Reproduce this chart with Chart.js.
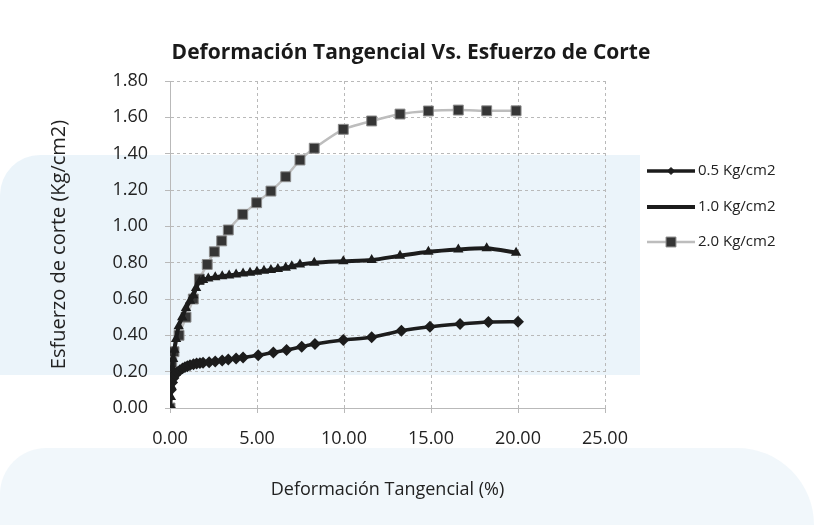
<!DOCTYPE html>
<html>
<head>
<meta charset="utf-8">
<script src="https://cdn.jsdelivr.net/npm/chart.js@4.4.1/dist/chart.umd.min.js"></script>
<style>
  html, body { margin: 0; padding: 0; background: #fff; }
  #wrap { position: relative; width: 814px; height: 525px; overflow: hidden; }
  .tinte { position: absolute; background: #e3f0f8; }
  canvas { position: absolute; left: 0; top: 0; }
</style>
</head>
<body>
<div id="wrap">
  <div class="tinte" style="left:0; top:155px; width:640px; height:220px; border-top-left-radius:40px; opacity:0.7"></div>
  <div class="tinte" style="left:0; top:448px; width:814px; height:77px; border-top-left-radius:120px; border-top-right-radius:200px; opacity:0.5"></div>
  <canvas id="grafico" width="814" height="525"></canvas>
</div>
<script>
// --- DATOS ---
const titulo = 'Deformación Tangencial Vs. Esfuerzo de Corte';
const tituloX = 'Deformación Tangencial (%)';
const tituloY = 'Esfuerzo de corte (Kg/cm2)';
const series = ['0.5 Kg/cm2', '1.0 Kg/cm2', '2.0 Kg/cm2'];

const def05 = [0, 0.05, 0.12, 0.2, 0.3, 0.42, 0.57, 0.72, 0.86, 1.0, 1.15, 1.35, 1.53, 1.72, 1.9, 2.25, 2.6, 3.0, 3.35, 3.8, 4.2, 5.07, 5.94, 6.7, 7.57, 8.33, 9.96, 11.59, 13.3, 14.94, 16.67, 18.3, 20.0];
const esf05 = [0, 0.1, 0.14, 0.165, 0.183, 0.197, 0.208, 0.218, 0.225, 0.23, 0.236, 0.241, 0.245, 0.247, 0.249, 0.252, 0.256, 0.262, 0.267, 0.272, 0.278, 0.29, 0.306, 0.319, 0.337, 0.352, 0.374, 0.389, 0.425, 0.447, 0.462, 0.473, 0.475];

const def10 = [0, 0.05, 0.08, 0.1, 0.13, 0.18, 0.25, 0.35, 0.5, 0.7, 0.92, 1.15, 1.34, 1.5, 1.69, 1.9, 2.2, 2.6, 3.0, 3.4, 3.8, 4.2, 4.6, 5.0, 5.4, 5.8, 6.2, 6.65, 7.0, 7.47, 8.29, 9.96, 11.59, 13.22, 14.85, 16.57, 18.2, 19.89];
const esf10 = [0, 0.06, 0.12, 0.17, 0.22, 0.27, 0.32, 0.38, 0.45, 0.5, 0.55, 0.59, 0.62, 0.66, 0.695, 0.705, 0.713, 0.72, 0.725, 0.73, 0.735, 0.74, 0.745, 0.75, 0.755, 0.76, 0.765, 0.772, 0.78, 0.79, 0.8, 0.808, 0.815, 0.838, 0.86, 0.873, 0.879, 0.855];

const def20 = [0, 0.1, 0.23, 0.52, 0.92, 1.34, 1.69, 2.14, 2.55, 2.97, 3.35, 4.18, 4.98, 5.80, 6.65, 7.47, 8.29, 9.96, 11.59, 13.22, 14.85, 16.57, 18.2, 19.89];
const esf20 = [0, 0.25, 0.31, 0.40, 0.50, 0.60, 0.71, 0.79, 0.86, 0.92, 0.98, 1.066, 1.13, 1.194, 1.273, 1.365, 1.43, 1.534, 1.58, 1.618, 1.635, 1.64, 1.636, 1.636];

const fuente = "'Open Sans', 'Noto Sans', sans-serif";
const gris = '#b9b9b9';

function puntos(xs, ys) {
    return xs.map((x, i) => ({ x: x, y: ys[i] }));
}

// --- TITULO (centrado sobre todo el grafico, no sobre el area) ---
const tituloArriba = {
    id: 'tituloArriba',
    afterDraw(chart) {
        const ctx = chart.ctx;
        ctx.save();
        ctx.fillStyle = '#1a1a1a';
        ctx.font = 'bold 21px ' + fuente;
        ctx.textAlign = 'center';
        ctx.textBaseline = 'alphabetic';
        ctx.fillText(titulo, 411, 59);
        ctx.restore();
    }
};

// --- LEYENDA A LA DERECHA ---
const leyendaLateral = {
    id: 'leyendaLateral',
    afterDraw(chart) {
        const ctx = chart.ctx;
        const x0 = 647, x1 = 695;
        const filas = [171, 207, 242];
        ctx.save();
        chart.data.datasets.forEach((ds, i) => {
            const y = filas[i];
            ctx.strokeStyle = ds.borderColor;
            ctx.lineWidth = ds.borderWidth;
            ctx.beginPath();
            ctx.moveTo(x0, y);
            ctx.lineTo(x1, y);
            ctx.stroke();
            const cx = (x0 + x1) / 2;
            ctx.fillStyle = ds.pointBackgroundColor;
            ctx.strokeStyle = ds.pointBorderColor;
            ctx.lineWidth = 1;
            const r = ds.pointRadius;
            ctx.beginPath();
            if (ds.pointStyle === 'rect') {
                const s = r * Math.SQRT1_2;
                ctx.rect(cx - s, y - s, 2 * s, 2 * s);
            } else if (ds.pointStyle === 'rectRot') {
                ctx.moveTo(cx, y - r); ctx.lineTo(cx + r, y); ctx.lineTo(cx, y + r); ctx.lineTo(cx - r, y); ctx.closePath();
            } else {
                ctx.moveTo(cx, y - r); ctx.lineTo(cx + r, y + r * 0.7); ctx.lineTo(cx - r, y + r * 0.7); ctx.closePath();
            }
            ctx.fill();
            ctx.stroke();
            ctx.fillStyle = '#222';
            ctx.font = '15px ' + fuente;
            ctx.textBaseline = 'middle';
            ctx.fillText(ds.label, x1 + 3, y);
        });
        ctx.restore();
    }
};

const ctx = document.getElementById('grafico').getContext('2d');
new Chart(ctx, {
    type: 'scatter',
    data: {
        datasets: [
            {
                label: series[0], data: puntos(def05, esf05), showLine: true,
                borderColor: '#1c1c1c', borderWidth: 3.5, tension: 0.25,
                pointStyle: 'rectRot', pointRadius: 3.5,
                pointBackgroundColor: '#1c1c1c', pointBorderColor: '#1c1c1c'
            },
            {
                label: series[1], data: puntos(def10, esf10), showLine: true,
                borderColor: '#1c1c1c', borderWidth: 4, tension: 0.25,
                pointStyle: 'triangle', pointRadius: 2,
                pointBackgroundColor: '#1c1c1c', pointBorderColor: '#1c1c1c'
            },
            {
                label: series[2], data: puntos(def20, esf20), showLine: true,
                borderColor: '#bdbdbd', borderWidth: 2.5, tension: 0.2,
                pointStyle: 'rect', pointRadius: 7,
                pointBackgroundColor: '#353535', pointBorderColor: '#8a8a8a', pointBorderWidth: 1
            }
        ]
    },
    options: {
        responsive: false,
        animation: false,
        layout: { padding: { top: 81, right: 209, left: 0, bottom: 0 } },
        plugins: {
            legend: { display: false },
            tooltip: { enabled: false },
            title: { display: false }
        },
        scales: {
            x: {
                type: 'linear', min: 0, max: 25,
                ticks: { stepSize: 5, color: '#222', padding: 15, font: { family: fuente, size: 18 },
                         callback: v => v.toFixed(2) },
                grid: { color: gris, tickLength: 5, tickColor: gris },
                border: { color: gris, dash: [3, 3] },
                title: { display: true, text: tituloX, color: '#222', font: { family: fuente, size: 18 },
                         padding: { top: 0, bottom: 24 } },
                afterFit(scale) { scale.height = 117; }
            },
            y: {
                min: 0, max: 1.8,
                ticks: { stepSize: 0.2, color: '#222', padding: 17, font: { family: fuente, size: 18 },
                         callback: v => v.toFixed(2) },
                grid: { color: gris, tickLength: 5, tickColor: gris },
                border: { color: gris, dash: [3, 3] },
                title: { display: true, text: tituloY, color: '#222', font: { family: fuente, size: 20 },
                         padding: { top: 47, bottom: 0 } },
                afterFit(scale) { scale.width = 170; }
            }
        }
    },
    plugins: [tituloArriba, leyendaLateral]
});
</script>
</body>
</html>
